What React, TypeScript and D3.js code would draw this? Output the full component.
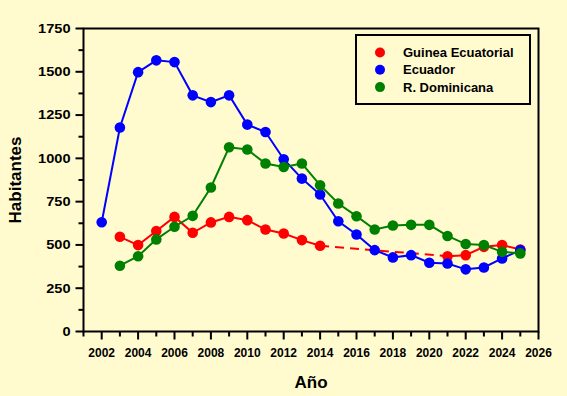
import React from "react";
import * as d3 from "d3";

const guineaYears = [2003, 2004, 2005, 2006, 2007, 2008, 2009, 2010, 2011, 2012, 2013, 2014, 2021, 2022, 2023, 2024, 2025];
const guineaValues = [547, 499, 580, 662, 570, 630, 662, 643, 589, 566, 528, 495, 435, 441, 489, 499, 474];
const ecuadorYears = [2002, 2003, 2004, 2005, 2006, 2007, 2008, 2009, 2010, 2011, 2012, 2013, 2014, 2015, 2016, 2017, 2018, 2019, 2020, 2021, 2022, 2023, 2024, 2025];
const ecuadorValues = [631, 1178, 1498, 1566, 1556, 1364, 1325, 1364, 1195, 1152, 995, 883, 791, 637, 560, 470, 428, 441, 397, 393, 359, 370, 422, 470];
const domYears = [2003, 2004, 2005, 2006, 2007, 2008, 2009, 2010, 2011, 2012, 2013, 2014, 2015, 2016, 2017, 2018, 2019, 2020, 2021, 2022, 2023, 2024, 2025];
const domValues = [380, 435, 532, 605, 668, 832, 1064, 1051, 970, 950, 970, 845, 739, 666, 589, 612, 616, 616, 552, 505, 499, 460, 451];

const seriesNames = ["Guinea Ecuatorial", "Ecuador", "R. Dominicana"];
const seriesColors = ["#ff0000", "#0000ff", "#008000"];
const yTicks = [0, 250, 500, 750, 1000, 1250, 1500, 1750];
const yMinor = [125, 375, 625, 875, 1125, 1375, 1625];
const xTicks = [2002, 2004, 2006, 2008, 2010, 2012, 2014, 2016, 2018, 2020, 2022, 2024, 2026];
const xMinor = [2001, 2003, 2005, 2007, 2009, 2011, 2013, 2015, 2017, 2019, 2021, 2023, 2025];

const W = 567, H = 396;
const L = 83.5, R = 538.5, T = 28.5, B = 331.5;
const FONT = "Liberation Sans, Arial, sans-serif";
const BG = "#fffbcf";

export default function App() {
  const x = d3.scaleLinear().domain([2001, 2026]).range([L, R]);
  const y = d3.scaleLinear().domain([0, 1750]).range([B, T]);
  const line = d3.line<[number, number]>().x(d => x(d[0])).y(d => y(d[1]));

  const guinea: [number, number][] = guineaYears.map((yr, i) => [yr, guineaValues[i]]);
  const g1 = guinea.filter(d => d[0] <= 2014);
  const g2 = guinea.filter(d => d[0] >= 2021);
  const gGap: [number, number][] = [guinea.find(d => d[0] === 2014)!, guinea.find(d => d[0] === 2021)!];
  const ecu: [number, number][] = ecuadorYears.map((yr, i) => [yr, ecuadorValues[i]]);
  const dom: [number, number][] = domYears.map((yr, i) => [yr, domValues[i]]);

  const series = [
    { pts: guinea, color: seriesColors[0] },
    { pts: ecu, color: seriesColors[1] },
    { pts: dom, color: seriesColors[2] },
  ];

  return (
    <svg width={W} height={H} style={{ position: "absolute", left: 0, top: 0, display: "block" }} fontFamily={FONT}>
      <rect x={0} y={0} width={W} height={H} fill={BG} />
      <path d={line(g1)!} fill="none" stroke={seriesColors[0]} strokeWidth={2} />
      <path d={line(gGap)!} fill="none" stroke={seriesColors[0]} strokeWidth={2} strokeDasharray="9,6" />
      <path d={line(g2)!} fill="none" stroke={seriesColors[0]} strokeWidth={2} />
      {series.map((s, si) => (
        <g key={si}>
          {si > 0 && <path d={line(s.pts)!} fill="none" stroke={s.color} strokeWidth={2} />}
          {s.pts.map((d, i) => (
            <circle key={i} cx={x(d[0])} cy={y(d[1])} r={5.3} fill={s.color} />
          ))}
        </g>
      ))}
      <rect x={L} y={T} width={R - L} height={B - T} fill="none" stroke="#000" strokeWidth={2} />
      {yTicks.map(t => (
        <g key={t}>
          <line x1={L - 8} x2={L} y1={y(t)} y2={y(t)} stroke="#000" strokeWidth={2} />
          <text x={L - 13 - String(t).length * 8.1} y={y(t)} dy="0.35em" textLength={String(t).length * 8.1} lengthAdjust="spacingAndGlyphs" fontSize={12.5} fontWeight="bold" fill="#000">{t}</text>
        </g>
      ))}
      {yMinor.map(t => (
        <line key={t} x1={L - 5} x2={L} y1={y(t)} y2={y(t)} stroke="#000" strokeWidth={2} />
      ))}
      {xTicks.map(t => (
        <g key={t}>
          <line x1={x(t)} x2={x(t)} y1={B} y2={B + 8} stroke="#000" strokeWidth={2} />
          <text x={x(t)} y={B + 25} textAnchor="middle" fontSize={12} fontWeight="bold" fill="#000">{t}</text>
        </g>
      ))}
      {xMinor.map(t => (
        <line key={t} x1={x(t)} x2={x(t)} y1={B} y2={B + 5} stroke="#000" strokeWidth={2} />
      ))}
      <text x={(L + R) / 2} y={388} textAnchor="middle" fontSize={17} fontWeight="bold" fill="#000">Año</text>
      <text transform={`translate(21,${(T + B) / 2}) rotate(-90)`} textAnchor="middle" fontSize={17} fontWeight="bold" fill="#000">Habitantes</text>
      <rect x={356} y={35} width={174} height={69} fill={BG} stroke="#000" strokeWidth={2} />
      {seriesNames.map((n, i) => (
        <g key={n}>
          <circle cx={380} cy={52.5 + i * 17.3} r={5} fill={seriesColors[i]} />
          <text x={403} y={52.5 + i * 17.3} dy="0.35em" fontSize={13} fontWeight="bold" fill="#000">{n}</text>
        </g>
      ))}
    </svg>
  );
}
